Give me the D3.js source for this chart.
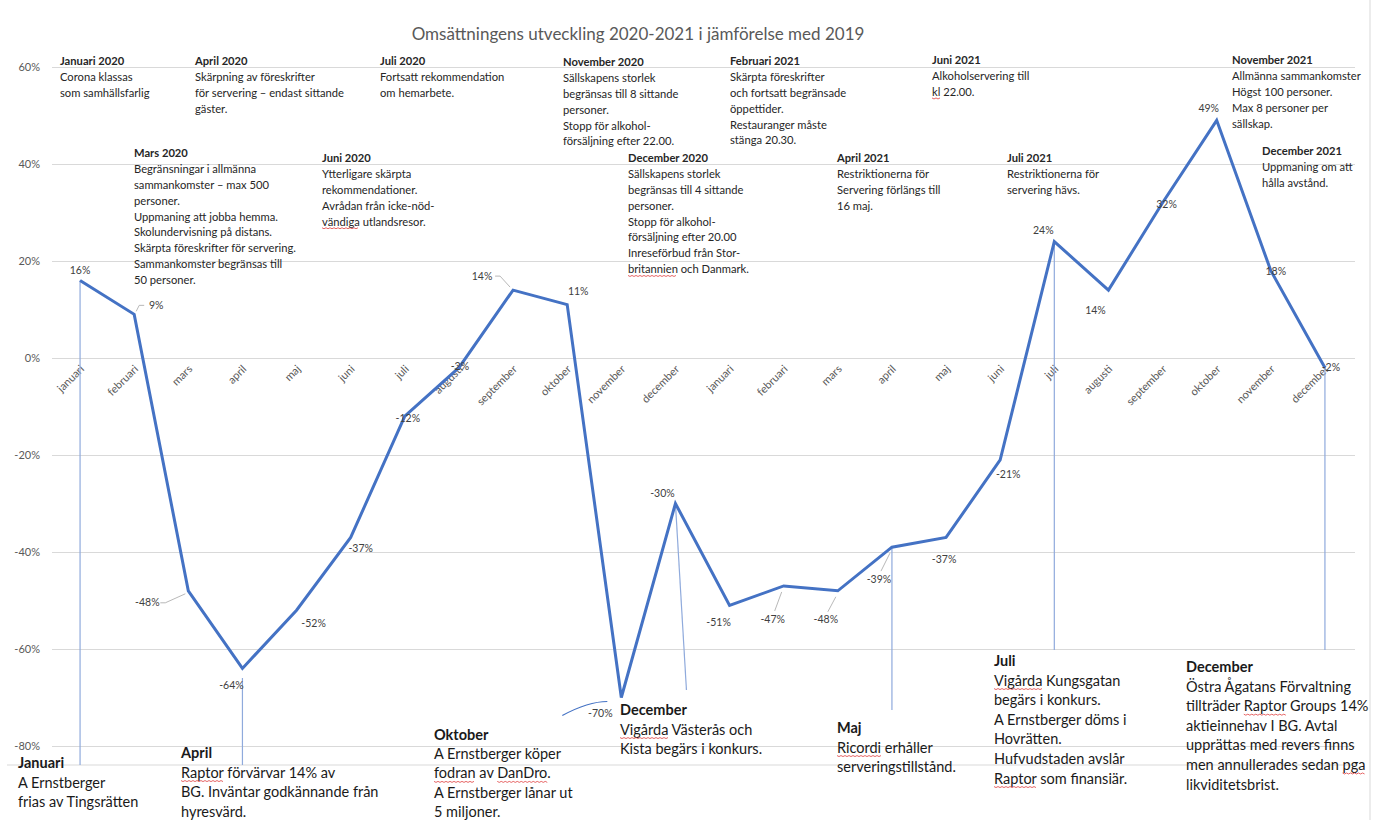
<!DOCTYPE html>
<html>
<head>
<meta charset="utf-8">
<script src="https://cdn.jsdelivr.net/npm/d3@7"></script>
<style>
  body { margin: 0; background: #fff; }
  svg { display: block; font-family: Lato, "Open Sans", sans-serif; }
</style>
</head>
<body>
<div id="chart"></div>
<script>
// ---- data ----
var months = ["januari", "februari", "mars", "april", "maj", "juni", "juli", "augusti",
  "september", "oktober", "november", "december"];
var categories = months.concat(months); // 2020 + 2021
var values = [16, 9, -48, -64, -52, -37, -12, -2, 14, 11, -70, -30,
  -51, -47, -48, -39, -37, -21, 24, 14, 32, 49, 18, -2];
var yTicks = [60, 40, 20, 0, -20, -40, -60, -80];
var title = "Omsättningens utveckling 2020-2021 i jämförelse med 2019";

var topNotes = [
  ["Januari 2020", "Corona klassas", "som samhällsfarlig"],
  ["April 2020", "Skärpning av föreskrifter", "för servering – endast sittande", "gäster."],
  ["Juli 2020", "Fortsatt rekommendation", "om hemarbete."],
  ["November 2020", "Sällskapens storlek", "begränsas till 8 sittande", "personer.", "Stopp för alkohol-", "försäljning efter 22.00."],
  ["Februari 2021", "Skärpta föreskrifter", "och fortsatt begränsade", "öppettider.", "Restauranger måste", "stänga 20.30."],
  ["Juni 2021", "Alkoholservering till", "kl 22.00."],
  ["November 2021", "Allmänna sammankomster", "Högst 100 personer.", "Max 8 personer per", "sällskap."],
  ["Mars 2020", "Begränsningar i allmänna", "sammankomster – max 500", "personer.", "Uppmaning att jobba hemma.", "Skolundervisning på distans.", "Skärpta föreskrifter för servering.", "Sammankomster begränsas till", "50 personer."],
  ["Juni 2020", "Ytterligare skärpta", "rekommendationer.", "Avrådan från icke-nöd-", "vändiga utlandsresor."],
  ["December 2020", "Sällskapens storlek", "begränsas till 4 sittande", "personer.", "Stopp för alkohol-", "försäljning efter 20.00", "Inreseförbud från Stor-", "britannien och Danmark."],
  ["April 2021", "Restriktionerna för", "Servering förlängs till", "16 maj."],
  ["Juli 2021", "Restriktionerna för", "servering hävs."],
  ["December 2021", "Uppmaning om att", "hålla avstånd."]
];

var bottomNotes = [
  ["Januari", "A Ernstberger", "frias av Tingsrätten"],
  ["April", "Raptor förvärvar 14% av", "BG. Inväntar godkännande från", "hyresvärd."],
  ["Oktober", "A Ernstberger köper", "fodran av DanDro.", "A Ernstberger lånar ut", "5 miljoner."],
  ["December", "Vigårda Västerås och", "Kista begärs i konkurs."],
  ["Maj", "Ricordi erhåller", "serveringstillstånd."],
  ["Juli", "Vigårda Kungsgatan", "begärs i konkurs.", "A Ernstberger döms i", "Hovrätten.", "Hufvudstaden avslår", "Raptor som finansiär."],
  ["December", "Östra Ågatans Förvaltning", "tillträder Raptor Groups 14%", "aktieinnehav I BG. Avtal", "upprättas med  revers finns", "men annullerades sedan pga", "likviditetsbrist."]
];

// words flagged by the spell checker in the original
var flagged = ["Raptor", "fodran", "DanDro", "Vigårda", "Ricordi", "pga", "vändiga", "britannien", "kl"];

// ---- layout ----
var W = 1375, H = 820;
var svg = d3.select("#chart").append("svg").attr("width", W).attr("height", H);

var x = d3.scalePoint().domain(d3.range(categories.length)).range([53, 1352]).padding(0.5);
var y = d3.scaleLinear().domain([-80, 60]).range([746, 67]);

// frame bits
svg.append("line").attr("x1", 1370).attr("x2", 1370).attr("y1", 0).attr("y2", H)
  .style("stroke", "#d9d9d9");
svg.append("line").attr("x1", 7).attr("x2", 1355).attr("y1", 765).attr("y2", 765)
  .style("stroke", "#d9d9d9");

// title
svg.append("text").attr("x", 638).attr("y", 40).attr("text-anchor", "middle")
  .style("font-size", "17px").style("fill", "#595959").text(title);

// grid + y labels
var yAxis = d3.axisLeft(y).tickValues(yTicks).tickSize(-(1355 - 52)).tickFormat(function (d) { return d + "%"; });
var gy = svg.append("g").attr("transform", "translate(52,0)").call(yAxis);
gy.select(".domain").remove();
gy.selectAll(".tick line").style("stroke", "#d9d9d9");
gy.selectAll(".tick text").attr("x", -12).style("font-size", "11px").style("fill", "#595959")
  .style("font-family", "Lato, sans-serif");

// x labels (rotated, under the 0% line)
svg.append("g").selectAll("text").data(categories).enter().append("text")
  .attr("transform", function (d, i) { return "translate(" + (x(i) + 2) + "," + 367 + ") rotate(-45)"; })
  .attr("text-anchor", "end").attr("dy", "0.35em")
  .style("font-size", "11px").style("fill", "#595959")
  .text(function (d) { return d; });

// event marker lines (thin blue)
var markers = [
  { i: 0, x2: 0, y2: 765 },
  { i: 3, x2: 0, y2: 765, start: 678 },
  { i: 11, x2: 11, y2: 690 },
  { i: 15, x2: 0, y2: 710 },
  { i: 18, x2: 0, y2: 650 },
  { i: 23, x2: 0, y2: 650 }
];
svg.append("g").selectAll("line").data(markers).enter().append("line")
  .attr("x1", function (d) { return x(d.i); })
  .attr("y1", function (d) { return d.start || y(values[d.i]); })
  .attr("x2", function (d) { return x(d.i) + d.x2; })
  .attr("y2", function (d) { return d.y2; })
  .style("stroke", "#8faadc").style("stroke-width", 1.2);

// the line
var line = d3.line().x(function (d, i) { return x(i); }).y(function (d) { return y(d); });
svg.append("path").datum(values).attr("d", line)
  .style("fill", "none").style("stroke", "#4472c4").style("stroke-width", 3)
  .style("stroke-linejoin", "miter");

// data labels: offsets of label centre from point, leader flag
var labelOff = [[0, -10], [22, -9], [-41, 12], [-11, 17], [17, 13], [10, 11], [3, 2], [1, -1],
  [-31, -14], [11, -13], [-21, 16], [-13, -10], [-11, 17], [-11, 33], [-12, 29], [-13, 32],
  [-2, 22], [8, 14], [-11, -11], [-13, 20], [4, 2], [-8, -12], [5, 1], [6, 0]];
var leader = { 1: "#a6a6a6", 2: "#a6a6a6", 8: "#a6a6a6", 10: "#4472c4", 13: "#a6a6a6", 14: "#a6a6a6", 15: "#a6a6a6" };

var pts = values.map(function (v, i) { return { i: i, v: v }; });

svg.append("g").selectAll("path").data(pts.filter(function (p) { return leader[p.i]; })).enter()
  .append("path")
  .attr("d", function (p) {
    var i = p.i, px = x(i), py = y(p.v), o = labelOff[i];
    var lx = px + o[0], ly = py + o[1];
    if (i === 10) return "M" + (lx - 38) + "," + (ly + 2) + "Q" + (lx - 12) + "," + (ly - 12) + " " + (px - 14) + "," + (py + 4);
    if (o[1] > 20) // label well below point: short diagonal up to the point
      return "M" + (lx + 2) + "," + (ly - 8) + "L" + (px - 2) + "," + (py + 6);
    var ex = lx + (o[0] > 0 ? -12 : 13), ey = ly;
    return "M" + ex + "," + ey + "L" + (ex + (o[0] > 0 ? -5 : 5)) + "," + ey +
      "L" + (px + (o[0] > 0 ? 2 : -3)) + "," + (py + (o[1] > 0 ? 3 : -3));
  })
  .style("fill", "none").style("stroke", function (p) { return leader[p.i]; })
  .style("stroke-width", function (p) { return p.i === 10 ? 1.2 : 0.8; });

svg.append("g").selectAll("text").data(pts).enter().append("text")
  .attr("x", function (p) { return x(p.i) + labelOff[p.i][0]; })
  .attr("y", function (p) { return y(p.v) + labelOff[p.i][1]; })
  .attr("text-anchor", "middle").attr("dy", "0.35em")
  .style("font-size", "10.5px").style("fill", "#404040")
  .text(function (p) { return p.v + "%"; });

// annotation blocks
function drawNote(g, lines, px, py, size, lh, color) {
  lines.forEach(function (s, k) {
    var el = g.append("text").attr("x", px).attr("y", py + k * lh).attr("dy", "0.35em")
      .style("font-size", size + "px").style("fill", color)
      .style("font-weight", k === 0 ? "bold" : "normal").text(s);
    if (k === 0) return;
    flagged.forEach(function (w) {
      var re = new RegExp("(^|[^A-Za-zåäöÅÄÖ])" + w + "([^A-Za-zåäöÅÄÖ]|$)");
      var m = re.exec(s);
      if (!m) return;
      var start = m.index + m[1].length;
      var node = el.node();
      var x0 = node.getStartPositionOfChar(start).x;
      var wdt = node.getSubStringLength(start, w.length);
      var yy = py + k * lh + size * 0.55;
      var zz = [];
      for (var xx = 0; xx <= wdt; xx += 2) zz.push([x0 + xx, yy + ((xx / 2) % 2 ? 1 : 0)]);
      g.append("path").attr("d", d3.line()(zz)).style("fill", "none")
        .style("stroke", "#e04040").style("stroke-width", 0.8);
    });
  });
}

var topPos = [[60, 61], [195, 61], [380, 61], [563, 62], [730, 61], [932, 60], [1232, 60],
  [134, 153], [322, 158], [628, 158], [837, 158], [1007, 158], [1262, 151]];
var gTop = svg.append("g");
topNotes.forEach(function (n, i) { drawNote(gTop, n, topPos[i][0], topPos[i][1], 11.2, 15.9, "#262626"); });

var bottomPos = [[18, 763], [181, 753], [434, 735], [620, 710], [837, 728], [994, 661], [1186, 667]];
var bottomLh = [19.6, 19.6, 19.2, 19.6, 19.6, 19.6, 19.6];
var gBot = svg.append("g");
bottomNotes.forEach(function (n, i) { drawNote(gBot, n, bottomPos[i][0], bottomPos[i][1], 14.5, bottomLh[i], "#1a1a1a"); });
</script>
</body>
</html>
